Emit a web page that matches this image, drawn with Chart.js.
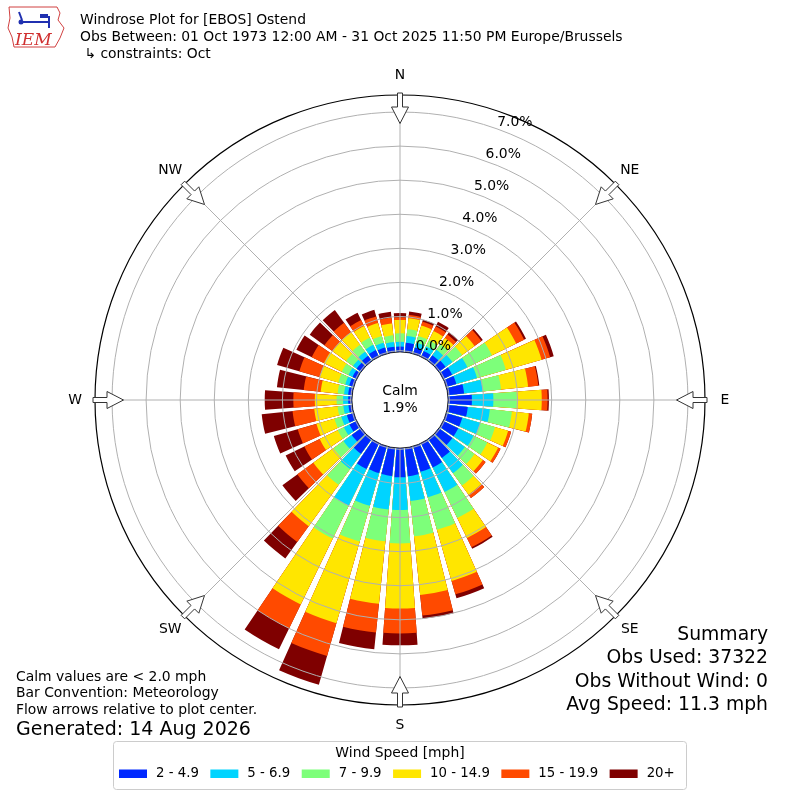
<!DOCTYPE html>
<html>
<head>
<meta charset="utf-8">
<title>Windrose Plot for [EBOS] Ostend</title>
<script src="https://cdn.jsdelivr.net/npm/chart.js@4.4.1/dist/chart.umd.min.js"></script>
<style>
  html, body { margin: 0; padding: 0; background: #ffffff; }
  #wrap { width: 800px; height: 800px; }
</style>
</head>
<body>
<div id="wrap"><canvas id="windrose" width="800" height="800"></canvas></div>
<script>
// =================================================================
// Data (percent of observations, direction wind blows from)
// =================================================================
const DIRECTIONS = [0, 10, 20, 30, 40, 50, 60, 70, 80, 90, 100, 110, 120, 130, 140, 150, 160, 170,
                    180, 190, 200, 210, 220, 230, 240, 250, 260, 270, 280, 290, 300, 310, 320, 330, 340, 350];

const SPEED_BINS = ['2 - 4.9', '5 - 6.9', '7 - 9.9', '10 - 14.9', '15 - 19.9', '20+'];
const BIN_COLORS = ['#0028ff', '#00d4ff', '#7dff7a', '#ffe600', '#ff4a00', '#7f0000'];

const freq_2_5 = [0.12, 0.24, 0.15, 0.15, 0.17, 0.20, 0.25, 0.27, 0.44, 0.66, 0.55, 0.45, 0.45, 0.45, 0.65, 0.75, 0.74, 0.80,
                  0.82, 0.79, 0.78, 0.80, 0.50, 0.30, 0.20, 0.17, 0.07, 0.07, 0.08, 0.10, 0.10, 0.12, 0.15, 0.18, 0.15, 0.12];
const freq_5_7 = [0.14, 0.20, 0.15, 0.15, 0.20, 0.25, 0.50, 0.63, 0.55, 0.63, 0.65, 0.55, 0.50, 0.45, 0.55, 0.80, 0.78, 0.73,
                  0.96, 0.99, 1.00, 1.20, 0.55, 0.30, 0.18, 0.17, 0.15, 0.15, 0.12, 0.12, 0.13, 0.13, 0.15, 0.17, 0.15, 0.14];
const freq_7_10 = [0.25, 0.20, 0.20, 0.20, 0.20, 0.35, 0.80, 0.88, 0.54, 0.69, 0.65, 0.45, 0.45, 0.35, 0.45, 0.85, 0.99, 1.04,
                   0.98, 0.94, 1.09, 1.07, 0.57, 0.36, 0.20, 0.21, 0.17, 0.19, 0.19, 0.21, 0.22, 0.25, 0.25, 0.23, 0.20, 0.20];
const freq_10_15 = [0.39, 0.32, 0.32, 0.30, 0.23, 0.45, 0.79, 1.09, 0.80, 0.73, 0.50, 0.40, 0.35, 0.30, 0.33, 0.65, 1.56, 1.73,
                    1.91, 1.84, 2.49, 2.15, 1.50, 0.73, 0.59, 0.55, 0.69, 0.64, 0.50, 0.57, 0.58, 0.49, 0.45, 0.38, 0.40, 0.35];
const freq_15_20 = [0.08, 0.10, 0.12, 0.15, 0.12, 0.25, 0.26, 0.26, 0.30, 0.17, 0.10, 0.09, 0.08, 0.10, 0.12, 0.30, 0.41, 0.61,
                    0.73, 0.85, 1.00, 0.78, 0.57, 0.58, 0.50, 0.57, 0.64, 0.63, 0.50, 0.62, 0.40, 0.30, 0.35, 0.20, 0.20, 0.17];
const freq_20_up = [0.12, 0.10, 0.06, 0.15, 0.08, 0.05, 0.06, 0.11, 0.03, 0.04, 0.00, 0.00, 0.00, 0.00, 0.00, 0.05, 0.12, 0.09,
                    0.35, 0.49, 0.88, 0.68, 0.60, 0.54, 0.61, 0.73, 0.91, 0.84, 0.79, 0.68, 0.50, 0.53, 0.46, 0.24, 0.20, 0.17];

const CALM_PCT = 1.9;
const RING_TICKS = [0, 1, 2, 3, 4, 5, 6, 7];
const COMPASS = ['N', 'NE', 'E', 'SE', 'S', 'SW', 'W', 'NW'];

const TITLE_LINES = [
    'Windrose Plot for [EBOS] Ostend',
    'Obs Between: 01 Oct 1973 12:00 AM - 31 Oct 2025 11:50 PM Europe/Brussels',
    ' \u21b3 constraints: Oct'
];
const NOTE_LINES = ['Calm values are < 2.0 mph', 'Bar Convention: Meteorology', 'Flow arrows relative to plot center.'];
const GENERATED = 'Generated: 14 Aug 2026';
const SUMMARY_LINES = ['Summary', 'Obs Used: 37322', 'Obs Without Wind: 0', 'Avg Speed: 11.3 mph'];
const LEGEND_TITLE = 'Wind Speed [mph]';

// =================================================================
// Geometry of the rose
// =================================================================
const R_MIN = -1.45;      // radial value at the centre (room for the calm circle)
const R_MAX = 7.5;        // outer black ring
const BAR_ANGLE = 8.2;    // degrees covered by one direction bar
const GAP_ANGLE = 1.8;    // white gap between bars
const FONT = '"DejaVu Sans", sans-serif';

const SERIES = [freq_2_5, freq_5_7, freq_7_10, freq_10_15, freq_15_20, freq_20_up];

// stacked value = sum of this bin and every slower bin
function cumulative(k) {
    return DIRECTIONS.map((d, i) => SERIES.slice(0, k + 1).reduce((s, arr) => s + arr[i], 0));
}

// every bar is followed by an empty slot so the bars get a gap
function withGaps(values) {
    const out = [];
    values.forEach(v => { out.push(v); out.push(R_MIN); });
    return out;
}

const labels = [];
DIRECTIONS.forEach(d => { labels.push(d + '\u00b0'); labels.push(''); });

const datasets = SPEED_BINS.map((bin, k) => ({
    label: bin,
    data: withGaps(cumulative(k)),
    backgroundColor: c => (c.dataIndex % 2 ? 'rgba(0,0,0,0)' : BIN_COLORS[k]),
    borderWidth: 0,
    angle: c => (c.dataIndex % 2 ? GAP_ANGLE : BAR_ANGLE)
}));

// =================================================================
// Decoration plugin: spokes, calm circle, arrows and texts
// =================================================================
function polar(cx, cy, r, deg) {
    const a = deg * Math.PI / 180;
    return [cx + r * Math.sin(a), cy - r * Math.cos(a)];
}

function drawArrow(ctx, cx, cy, deg) {
    const a = deg * Math.PI / 180;
    const pt = (rr, w) => [cx + rr * Math.sin(a) + w * Math.cos(a), cy - rr * Math.cos(a) + w * Math.sin(a)];
    const pts = [pt(307, -2.5), pt(293, -2.5), pt(293, -8.5), pt(276.5, 0), pt(293, 8.5), pt(293, 2.5), pt(307, 2.5)];
    ctx.beginPath();
    pts.forEach((p, i) => (i ? ctx.lineTo(p[0], p[1]) : ctx.moveTo(p[0], p[1])));
    ctx.closePath();
    ctx.fillStyle = '#ffffff';
    ctx.fill();
    ctx.strokeStyle = '#333333';
    ctx.lineWidth = 1;
    ctx.stroke();
}

function drawLogo(ctx) {
    ctx.save();
    ctx.strokeStyle = '#d04040';
    ctx.lineWidth = 1;
    ctx.beginPath();
    const outline = [[9, 7], [57, 7], [60, 13], [58, 20], [64, 28], [60, 38], [55, 47], [14, 47], [12, 37], [8, 28], [10, 18]];
    outline.forEach((p, i) => (i ? ctx.lineTo(p[0], p[1]) : ctx.moveTo(p[0], p[1])));
    ctx.closePath();
    ctx.stroke();
    ctx.strokeStyle = '#2030b0';
    ctx.fillStyle = '#2030b0';
    ctx.lineWidth = 2;
    ctx.beginPath();
    ctx.moveTo(22, 22); ctx.lineTo(48, 22);
    ctx.moveTo(19, 12); ctx.lineTo(22, 20);
    ctx.moveTo(49, 16); ctx.lineTo(49, 28);
    ctx.stroke();
    ctx.fillRect(40, 14, 8, 4);
    ctx.beginPath(); ctx.arc(21, 22, 2.5, 0, Math.PI * 2); ctx.fill();
    ctx.fillStyle = '#d03030';
    ctx.font = 'italic 17px "DejaVu Serif", "Liberation Serif", serif';
    ctx.textAlign = 'left';
    ctx.textBaseline = 'alphabetic';
    ctx.fillText('IEM', 15, 45);
    ctx.restore();
}

function drawLegend(ctx) {
    ctx.save();
    ctx.strokeStyle = '#cccccc';
    ctx.lineWidth = 1;
    ctx.beginPath();
    ctx.roundRect(113.5, 741.5, 573, 48, 3);
    ctx.fillStyle = '#ffffff';
    ctx.fill();
    ctx.stroke();
    ctx.fillStyle = '#000000';
    ctx.font = '13.9px ' + FONT;
    ctx.textAlign = 'center';
    ctx.textBaseline = 'middle';
    ctx.fillText(LEGEND_TITLE, 400, 753);
    ctx.font = '13.3px ' + FONT;
    ctx.textAlign = 'left';
    let x = 119;
    SPEED_BINS.forEach((bin, k) => {
        ctx.fillStyle = BIN_COLORS[k];
        ctx.fillRect(x, 769.5, 28, 8.5);
        x += 28 + 9;
        ctx.fillStyle = '#000000';
        ctx.fillText(bin, x, 774);
        x += ctx.measureText(bin).width + 11.5;
    });
    ctx.restore();
}

const roseDecor = {
    id: 'roseDecor',
    afterDatasetsDraw(chart) {
        const scale = chart.scales.r;
        const ctx = chart.ctx;
        const cx = scale.xCenter;
        const cy = scale.yCenter;
        const calmR = scale.getDistanceFromCenterForValue(0) - 1.3;
        const outer = scale.getDistanceFromCenterForValue(R_MAX);
        ctx.save();
        ctx.strokeStyle = '#b0b0b0';
        ctx.lineWidth = 1;
        for (let k = 0; k < 8; k++) {
            const p0 = polar(cx, cy, calmR, k * 45);
            const p1 = polar(cx, cy, outer, k * 45);
            ctx.beginPath();
            ctx.moveTo(p0[0], p0[1]);
            ctx.lineTo(p1[0], p1[1]);
            ctx.stroke();
        }
        ctx.beginPath();
        ctx.arc(cx, cy, calmR, 0, Math.PI * 2);
        ctx.fillStyle = '#ffffff';
        ctx.fill();
        ctx.strokeStyle = '#222222';
        ctx.stroke();
        ctx.restore();
    },
    afterDraw(chart) {
        const scale = chart.scales.r;
        const ctx = chart.ctx;
        const cx = scale.xCenter;
        const cy = scale.yCenter;
        ctx.save();

        // calm percentage
        ctx.fillStyle = '#000000';
        ctx.font = '13.9px ' + FONT;
        ctx.textAlign = 'center';
        ctx.textBaseline = 'middle';
        ctx.fillText('Calm', cx, cy - 9);
        ctx.fillText(CALM_PCT.toFixed(1) + '%', cx, cy + 8);

        // ring labels
        RING_TICKS.forEach(v => {
            const p = polar(cx, cy, scale.getDistanceFromCenterForValue(v), 20);
            ctx.fillText(v.toFixed(1) + '%', p[0] + 16.4, p[1] - 7.2);
        });

        // flow arrows and compass labels
        COMPASS.forEach((name, k) => {
            drawArrow(ctx, cx, cy, k * 45);
            const p = polar(cx, cy, 325, k * 45);
            ctx.fillStyle = '#000000';
            ctx.fillText(name, p[0], p[1]);
        });

        // header
        drawLogo(ctx);
        ctx.fillStyle = '#000000';
        ctx.font = '13.9px ' + FONT;
        ctx.textAlign = 'left';
        TITLE_LINES.forEach((line, i) => ctx.fillText(line, 80, 20.5 + i * 17));

        // notes bottom-left
        NOTE_LINES.forEach((line, i) => ctx.fillText(line, 16, 677 + i * 16.5));
        ctx.font = '19px ' + FONT;
        ctx.fillText(GENERATED, 16, 730);

        // summary bottom-right
        ctx.textAlign = 'right';
        ctx.font = '18.8px ' + FONT;
        SUMMARY_LINES.forEach((line, i) => ctx.fillText(line, 768, 635 + i * 23.5));
        ctx.restore();

        drawLegend(ctx);
    }
};

// =================================================================
// Chart
// =================================================================
const ctx = document.getElementById('windrose').getContext('2d');
const windrose = new Chart(ctx, {
    type: 'polarArea',
    data: { labels: labels, datasets: datasets },
    options: {
        responsive: false,
        animation: false,
        events: [],
        layout: { padding: 95 },
        plugins: { legend: { display: false }, tooltip: { enabled: false } },
        scales: {
            r: {
                min: R_MIN,
                max: R_MAX,
                startAngle: -BAR_ANGLE / 2,
                ticks: { display: false },
                afterBuildTicks: s => { s.ticks = [R_MIN].concat(RING_TICKS, [R_MAX]).map(v => ({ value: v })); },
                grid: {
                    z: 1,
                    color: c => (c.tick && c.tick.value === R_MAX ? '#000000' : '#b0b0b0'),
                    lineWidth: c => (c.tick && c.tick.value === R_MAX ? 1.2 : 1)
                },
                angleLines: { display: false },
                pointLabels: { display: false }
            }
        }
    },
    plugins: [roseDecor]
});
</script>
</body>
</html>
